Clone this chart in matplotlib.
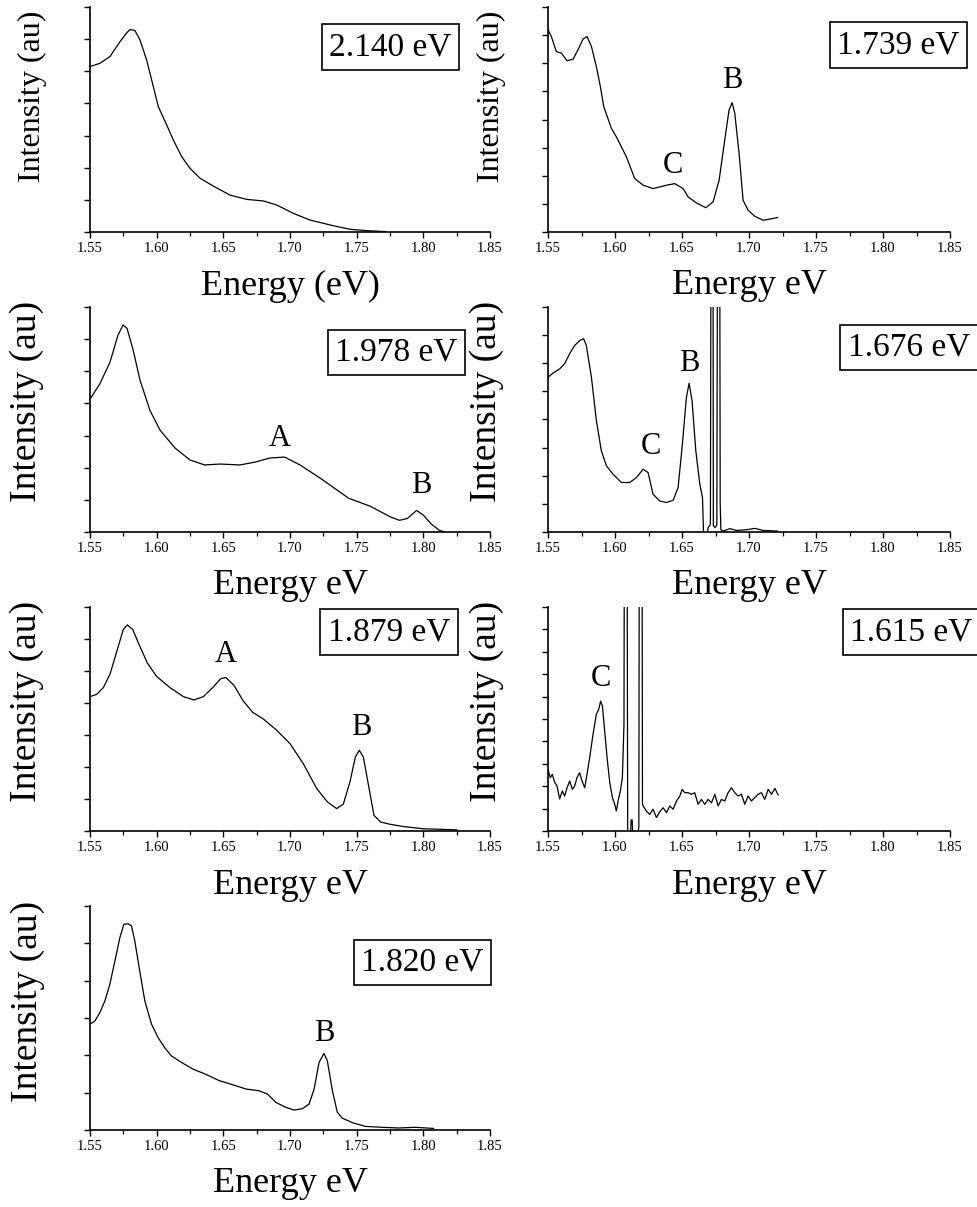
import matplotlib
matplotlib.use("Agg")
import matplotlib.pyplot as plt
from matplotlib.ticker import MultipleLocator, NullFormatter

plt.rcParams['font.family'] = ['Liberation Serif', 'DejaVu Serif']

# ---------------- data (energy in eV, intensity normalised to axis height) -------------
e_2140 = [1.55, 1.5575, 1.565, 1.5725, 1.5775, 1.58, 1.58375, 1.5875, 1.5925, 1.5975, 1.60125,
          1.6075, 1.6125, 1.61875, 1.625, 1.6325, 1.6425, 1.655, 1.6675, 1.68, 1.69,
          1.7025, 1.715, 1.7325, 1.745, 1.7575, 1.77125]
i_2140 = [0.735, 0.75, 0.78, 0.846, 0.885, 0.90, 0.895, 0.853, 0.764, 0.646, 0.557,
          0.476, 0.409, 0.335, 0.283, 0.239, 0.204, 0.164, 0.145, 0.138, 0.12,
          0.083, 0.053, 0.028, 0.012, 0.006, 0.002]

e_1739 = [1.55, 1.5525, 1.5562, 1.56, 1.5642, 1.5687, 1.5724, 1.5761, 1.5791, 1.5824,
          1.5861, 1.5891, 1.5916, 1.5973, 1.601, 1.6085, 1.6147, 1.621, 1.6284, 1.6384,
          1.6446, 1.6508, 1.6546, 1.6608, 1.6678, 1.6732, 1.6777, 1.6819, 1.6851, 1.6874,
          1.6894, 1.6926, 1.6956, 1.6993, 1.7043, 1.7106, 1.7168, 1.7213]
i_1739 = [0.899, 0.869, 0.802, 0.795, 0.761, 0.768, 0.81, 0.857, 0.869, 0.825,
          0.735, 0.646, 0.557, 0.461, 0.423, 0.334, 0.238, 0.208, 0.193, 0.208,
          0.215, 0.193, 0.156, 0.129, 0.108, 0.134, 0.23, 0.409, 0.542, 0.575,
          0.527, 0.349, 0.141, 0.097, 0.07, 0.052, 0.059, 0.064]

e_1978 = [1.55, 1.5575, 1.565, 1.571, 1.5748, 1.5778, 1.5823, 1.5875, 1.595, 1.6025,
          1.6138, 1.625, 1.636, 1.6475, 1.6625, 1.674, 1.685, 1.696, 1.7075, 1.7225,
          1.744, 1.76, 1.775, 1.782, 1.788, 1.795, 1.80, 1.806, 1.812, 1.816]
i_1978 = [0.59, 0.66, 0.755, 0.875, 0.92, 0.905, 0.81, 0.675, 0.54, 0.453,
          0.373, 0.32, 0.298, 0.302, 0.298, 0.311, 0.329, 0.333, 0.298, 0.24,
          0.15, 0.115, 0.068, 0.052, 0.06, 0.096, 0.075, 0.035, 0.008, 0.0]

e_1676 = [1.55, 1.5537, 1.5587, 1.5624, 1.5662, 1.5699, 1.5737, 1.5766, 1.5786, 1.5824,
          1.5861, 1.5898, 1.5936, 1.5985, 1.6048, 1.611, 1.616, 1.621, 1.6247, 1.6284,
          1.6334, 1.6384, 1.6434, 1.6471, 1.6503, 1.6533, 1.6553, 1.6575, 1.6603, 1.6633,
          1.6653, 1.6663, 1.6682, 1.6695, 1.6712, 1.6722, 1.6728, 1.6734, 1.6745, 1.6760,
          1.6771, 1.6777, 1.6785, 1.6790, 1.6807, 1.6857, 1.6907, 1.6981, 1.7043, 1.7106,
          1.7213]
i_1676 = [0.688, 0.706, 0.725, 0.748, 0.793, 0.829, 0.851, 0.859, 0.829, 0.688,
          0.495, 0.361, 0.294, 0.257, 0.22, 0.22, 0.242, 0.279, 0.264, 0.168,
          0.138, 0.131, 0.141, 0.198, 0.391, 0.599, 0.661, 0.584, 0.361, 0.212,
          0.153, -0.05, -0.05, 0.019, 0.034, 3.0, 3.0, 0.03, 0.02, 0.03,
          3.0, 3.0, 0.13, 0.01, 0.004, 0.015, 0.007, 0.01, 0.016, 0.007,
          0.004]

e_1879 = [1.55, 1.555, 1.56, 1.565, 1.57, 1.575, 1.578, 1.582, 1.587, 1.593,
          1.60, 1.61, 1.62, 1.628, 1.635, 1.642, 1.648, 1.652, 1.658, 1.665,
          1.672, 1.68, 1.69, 1.70, 1.71, 1.72, 1.728, 1.735, 1.74, 1.745,
          1.749, 1.752, 1.755, 1.759, 1.763, 1.768, 1.775, 1.785, 1.80, 1.825]
i_1879 = [0.6, 0.61, 0.64, 0.7, 0.8, 0.9, 0.92, 0.9, 0.83, 0.75,
          0.69, 0.64, 0.6, 0.585, 0.6, 0.64, 0.68, 0.685, 0.65, 0.58,
          0.53, 0.5, 0.45, 0.39, 0.3, 0.19, 0.13, 0.10, 0.12, 0.22,
          0.33, 0.36, 0.33, 0.2, 0.07, 0.04, 0.03, 0.02, 0.01, 0.005]

e_1615 = [1.55, 1.5517, 1.5532, 1.555, 1.5567, 1.5587, 1.5607, 1.5624, 1.5642, 1.5662,
          1.5682, 1.5699, 1.5716, 1.5736, 1.5754, 1.5774, 1.5791, 1.5811, 1.5836, 1.5861,
          1.5878, 1.5893, 1.5906, 1.5923, 1.5941, 1.5961, 1.5981, 1.5998, 1.601, 1.6023,
          1.604, 1.6055, 1.6067, 1.6075, 1.6085, 1.6095, 1.6115, 1.6120, 1.6128, 1.6135,
          1.6165, 1.6178, 1.6185, 1.6198, 1.6205, 1.621, 1.6234, 1.6259, 1.6284, 1.6309,
          1.6334, 1.6359, 1.6384, 1.6409, 1.6434, 1.6459, 1.6484, 1.6501, 1.6521, 1.6546,
          1.6571, 1.6595, 1.662, 1.6645, 1.667, 1.6695, 1.672, 1.6745, 1.677, 1.6794,
          1.6819, 1.6844, 1.6869, 1.6894, 1.6919, 1.6944, 1.6968, 1.6993, 1.7018, 1.7043,
          1.7068, 1.7093, 1.7118, 1.7143, 1.7168, 1.7193, 1.7218]
i_1615 = [0.275, 0.238, 0.253, 0.217, 0.202, 0.143, 0.179, 0.156, 0.193, 0.223,
          0.186, 0.201, 0.238, 0.26, 0.223, 0.193, 0.253, 0.327, 0.432, 0.521,
          0.543, 0.58, 0.558, 0.446, 0.327, 0.216, 0.149, 0.119, 0.089, 0.134,
          0.179, 0.238, 0.476, 3.0, 3.0, -0.1, -0.05, 0.05, 0.05, -0.05,
          -0.05, 0.02, 3.0, 3.0, 0.12, 0.112, 0.089, 0.074, 0.097, 0.06,
          0.086, 0.104, 0.082, 0.112, 0.097, 0.134, 0.156, 0.186, 0.171, 0.171,
          0.164, 0.171, 0.119, 0.141, 0.119, 0.141, 0.126, 0.164, 0.112, 0.141,
          0.134, 0.171, 0.193, 0.171, 0.156, 0.164, 0.119, 0.156, 0.134, 0.149,
          0.164, 0.171, 0.141, 0.186, 0.164, 0.19, 0.161]

e_1820 = [1.55, 1.5537, 1.5575, 1.5612, 1.5649, 1.5687, 1.5724, 1.5754, 1.5786, 1.5811,
          1.5836, 1.5873, 1.5911, 1.5961, 1.601, 1.606, 1.611, 1.6185, 1.6272, 1.6371,
          1.6471, 1.657, 1.667, 1.677, 1.6832, 1.6894, 1.6969, 1.7031, 1.7093, 1.7143,
          1.7181, 1.7218, 1.7255, 1.728, 1.7318, 1.7355, 1.7392, 1.7467, 1.7566, 1.7691,
          1.7815, 1.794, 1.8077]
i_1820 = [0.473, 0.487, 0.525, 0.577, 0.651, 0.755, 0.859, 0.918, 0.921, 0.911,
          0.844, 0.71, 0.577, 0.473, 0.413, 0.368, 0.331, 0.302, 0.272, 0.248,
          0.22, 0.202, 0.183, 0.175, 0.16, 0.123, 0.101, 0.089, 0.095, 0.116,
          0.183, 0.302, 0.342, 0.309, 0.175, 0.079, 0.053, 0.033, 0.016, 0.012,
          0.009, 0.012, 0.007]

excitations = ["2.140 eV", "1.739 eV", "1.978 eV", "1.676 eV", "1.879 eV", "1.615 eV", "1.820 eV"]
xlabels = ["Energy (eV)", "Energy eV", "Energy eV", "Energy eV", "Energy eV", "Energy eV", "Energy eV"]
ylabel_text = "Intensity (au)"
x_ticks = [1.55, 1.60, 1.65, 1.70, 1.75, 1.80, 1.85]
x_ticklabels = ["1.55", "1.60", "1.65", "1.70", "1.75", "1.80", "1.85"]

# peak labels: (letter, energy, height)
peaks_2140 = []
peaks_1739 = [("B", 1.6874, 0.675), ("C", 1.6435, 0.295)]
peaks_1978 = [("A", 1.6925, 0.415), ("B", 1.7985, 0.205)]
peaks_1676 = [("B", 1.6555, 0.75), ("C", 1.6265, 0.38)]
peaks_1879 = [("A", 1.6515, 0.79), ("B", 1.7533, 0.46)]
peaks_1615 = [("C", 1.5895, 0.68)]
peaks_1820 = [("B", 1.7255, 0.43)]

# ---------------- layout ------------------------------------------------------------
W, H = 977, 1207
fig = plt.figure(figsize=(W / 100, H / 100), dpi=100)

# axes box (px), number of y intervals, box centre (px), ylabel size, ylabel centre (px)
panels = [
    (e_2140, i_2140, peaks_2140, (90, 490, 7, 232), 7, (390.5, 47), 23, (32, 96)),
    (e_1739, i_1739, peaks_1739, (548, 950, 7, 232), 8, (898.5, 45), 23, (491, 96)),
    (e_1978, i_1978, peaks_1978, (90, 490, 307, 532), 7, (396.5, 352.5), 27, (27, 401)),
    (e_1676, i_1676, peaks_1676, (548, 950, 307, 532), 8, (909, 347.5), 27, (487, 401)),
    (e_1879, i_1879, peaks_1879, (90, 490, 607, 831), 7, (389, 632), 27, (27, 701)),
    (e_1615, i_1615, peaks_1615, (548, 950, 607, 831), 10, (911.5, 632), 27, (487, 701)),
    (e_1820, i_1820, peaks_1820, (90, 490, 906, 1130), 6, (422.5, 962.5), 27, (28, 1001)),
]

for k, (ex, iy, pk, (x0, x1, y0, y1), nint, (bx, by), ylsize, (lx, ly)) in enumerate(panels):
    ax = fig.add_axes([x0 / W, 1 - y1 / H, (x1 - x0) / W, (y1 - y0) / H])
    ax.plot(ex, iy, color="black", lw=0.9)
    ax.set_xlim(1.55, 1.85)
    ax.set_ylim(0, 1)
    ax.set_xticks(x_ticks)
    ax.set_xticklabels(x_ticklabels)
    ax.xaxis.set_minor_locator(MultipleLocator(0.025))
    ax.set_yticks([j / nint for j in range(nint + 1)])
    ax.yaxis.set_major_formatter(NullFormatter())
    for s in ("top", "right"):
        ax.spines[s].set_visible(False)
    for s in ("left", "bottom"):
        ax.spines[s].set_linewidth(1.2)
    ax.tick_params(axis="x", which="major", direction="out", length=4, width=1.0,
                   labelsize=10.5, pad=3)
    ax.tick_params(axis="x", which="minor", direction="out", length=3, width=0.9)
    ax.tick_params(axis="y", which="major", direction="out", length=4, width=1.0)
    ax.patch.set_alpha(0)

    ax.set_xlabel(xlabels[k], fontsize=26, va="center")
    ax.xaxis.set_label_coords(0.5, -54 / (y1 - y0))
    ax.set_ylabel(ylabel_text, fontsize=ylsize, va="center")
    ax.yaxis.set_label_coords((lx - x0) / (x1 - x0), (y1 - ly) / (y1 - y0))

    ax.text((bx - x0) / (x1 - x0), (y1 - by) / (y1 - y0), excitations[k],
            transform=ax.transAxes, ha="center", va="center", fontsize=24,
            clip_on=False,
            bbox=dict(boxstyle="square,pad=0.22", fc="white", ec="black", lw=1.2))

    for (lab, px, py) in pk:
        ax.text(px, py, lab, ha="center", va="center", fontsize=22)

fig.savefig("out.png", dpi=100)
